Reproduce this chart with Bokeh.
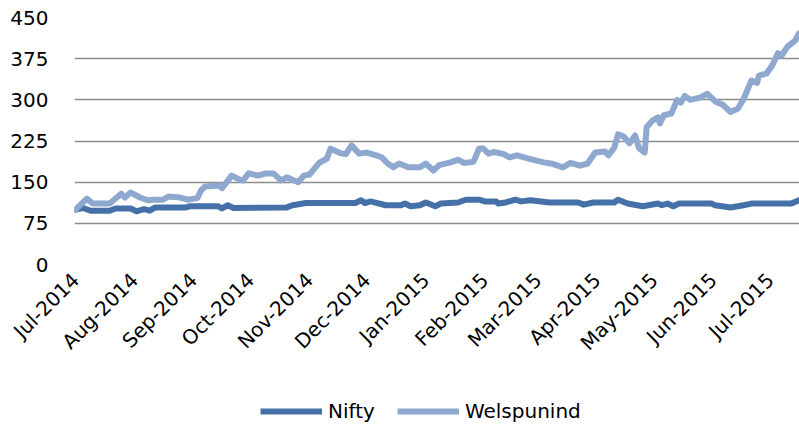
import math
import pandas as pd
from bokeh.plotting import figure
from bokeh.layouts import column
from bokeh.models import (ColumnDataSource, Range1d, FixedTicker,
                          DatetimeTickFormatter, Legend, LegendItem)
from bokeh.embed import file_html
from bokeh.resources import INLINE

# ---------------- data ----------------
nifty_dates = ["2014-07-01", "2014-07-05", "2014-07-09", "2014-07-19", "2014-07-22",
               "2014-07-30", "2014-08-02", "2014-08-06", "2014-08-09", "2014-08-12",
               "2014-08-28", "2014-08-30", "2014-09-14", "2014-09-16", "2014-09-19",
               "2014-09-22", "2014-10-20", "2014-10-23", "2014-10-30", "2014-11-25",
               "2014-11-28", "2014-11-30", "2014-12-03", "2014-12-11", "2014-12-19",
               "2014-12-21", "2014-12-24", "2014-12-29", "2015-01-01", "2015-01-06",
               "2015-01-09", "2015-01-18", "2015-01-22", "2015-01-29", "2015-02-01",
               "2015-02-07", "2015-02-08", "2015-02-12", "2015-02-17", "2015-02-20",
               "2015-02-25", "2015-03-07", "2015-03-22", "2015-03-25", "2015-03-30",
               "2015-04-10", "2015-04-12", "2015-04-17", "2015-04-25", "2015-05-03",
               "2015-05-05", "2015-05-08", "2015-05-11", "2015-05-14", "2015-05-31",
               "2015-06-02", "2015-06-10", "2015-06-17", "2015-06-21", "2015-07-12",
               "2015-07-16"]
nifty_values = [100, 103, 98, 98, 102,
                102, 97, 101, 98, 104,
                104, 106, 106, 102, 108,
                103, 104, 108, 112, 112,
                117, 112, 115, 108, 108,
                111, 106, 108, 113, 106,
                111, 113, 118, 118, 115,
                115, 111, 113, 118, 115,
                117, 113, 113, 109, 113,
                113, 118, 111, 106, 111,
                108, 111, 106, 111, 111,
                108, 104, 108, 111, 111,
                117]

welspun_dates = ["2014-07-01", "2014-07-04", "2014-07-07", "2014-07-10", "2014-07-19",
                 "2014-07-25", "2014-07-27", "2014-07-30", "2014-08-04", "2014-08-08",
                 "2014-08-11", "2014-08-16", "2014-08-19", "2014-08-25", "2014-08-29",
                 "2014-09-03", "2014-09-05", "2014-09-07", "2014-09-15", "2014-09-16",
                 "2014-09-21", "2014-09-25", "2014-09-27", "2014-09-30", "2014-10-05",
                 "2014-10-09", "2014-10-13", "2014-10-17", "2014-10-20", "2014-10-26",
                 "2014-10-29", "2014-11-01", "2014-11-06", "2014-11-10", "2014-11-12",
                 "2014-11-17", "2014-11-20", "2014-11-23", "2014-11-27", "2014-12-01",
                 "2014-12-06", "2014-12-09", "2014-12-12", "2014-12-15", "2014-12-18",
                 "2014-12-23", "2014-12-29", "2015-01-01", "2015-01-05", "2015-01-08",
                 "2015-01-14", "2015-01-18", "2015-01-21", "2015-01-26", "2015-01-29",
                 "2015-01-31", "2015-02-03", "2015-02-06", "2015-02-11", "2015-02-14",
                 "2015-02-18", "2015-02-25", "2015-03-04", "2015-03-09", "2015-03-14",
                 "2015-03-18", "2015-03-23", "2015-03-27", "2015-03-31", "2015-04-05",
                 "2015-04-07", "2015-04-10", "2015-04-12", "2015-04-15", "2015-04-18",
                 "2015-04-21", "2015-04-23", "2015-04-26", "2015-04-27", "2015-04-30",
                 "2015-05-03", "2015-05-04", "2015-05-06", "2015-05-10", "2015-05-13",
                 "2015-05-15", "2015-05-17", "2015-05-20", "2015-05-25", "2015-05-29",
                 "2015-06-02", "2015-06-06", "2015-06-10", "2015-06-14", "2015-06-17",
                 "2015-06-21", "2015-06-24", "2015-06-25", "2015-06-29", "2015-07-02",
                 "2015-07-05", "2015-07-07", "2015-07-10", "2015-07-14", "2015-07-16"]
welspun_values = [100, 110, 120, 111, 111,
                  129, 122, 131, 122, 117,
                  118, 118, 124, 122, 118,
                  121, 135, 142, 144, 139,
                  162, 155, 153, 166, 162,
                  166, 166, 153, 159, 150,
                  162, 164, 185, 193, 211,
                  203, 201, 217, 202, 204,
                  199, 195, 184, 177, 184,
                  177, 177, 184, 171, 181,
                  186, 191, 185, 187, 211,
                  212, 202, 205, 201, 195,
                  199, 192, 186, 183, 177,
                  185, 180, 184, 204, 206,
                  199, 213, 237, 233, 221,
                  235, 212, 204, 250, 262,
                  268, 257, 272, 275, 300,
                  295, 307, 300, 304, 311,
                  297, 291, 278, 284, 302,
                  335, 331, 344, 348, 363,
                  385, 381, 397, 408, 421]

month_ticks = ["2014-07-01", "2014-08-01", "2014-09-01", "2014-10-01", "2014-11-01",
               "2014-12-01", "2015-01-01", "2015-02-01", "2015-03-01", "2015-04-01",
               "2015-05-01", "2015-06-01", "2015-07-01"]
y_ticks = [0, 75, 150, 225, 300, 375, 450]
series_names = ["Nifty", "Welspunind"]

# ---------------- styling ----------------
FONT = "DejaVu Sans"
NIFTY_COLOR = "#4571A8"
WELSPUN_COLOR = "#8EA8D0"
GRID_COLOR = "#8C8C8C"
LINE_W = 6

def to_ms(d):
    return int(pd.Timestamp(d).timestamp() * 1000)

x_start = pd.Timestamp("2014-07-01") - pd.Timedelta(hours=12)
x_end = x_start + pd.Timedelta(days=380.8)

p = figure(width=799, height=395, x_axis_type="datetime",
           output_backend="svg", toolbar_location=None,
           x_range=Range1d(x_start, x_end), y_range=Range1d(0, 450),
           min_border_left=74, min_border_right=0,
           min_border_top=17, min_border_bottom=131)
p.outline_line_color = None
p.background_fill_color = "white"
p.border_fill_color = "white"

src_n = ColumnDataSource(dict(x=pd.to_datetime(nifty_dates), y=nifty_values))
src_w = ColumnDataSource(dict(x=pd.to_datetime(welspun_dates), y=welspun_values))

p.line("x", "y", source=src_n, line_color=NIFTY_COLOR, line_width=LINE_W,
       line_join="round", line_cap="round")
p.line("x", "y", source=src_w, line_color=WELSPUN_COLOR, line_width=LINE_W,
       line_join="round", line_cap="round")

# y axis
p.yaxis.ticker = FixedTicker(ticks=y_ticks)
p.yaxis.axis_line_color = None
p.yaxis.major_tick_line_color = None
p.yaxis.minor_tick_line_color = None
p.yaxis.major_label_standoff = 20
p.yaxis.major_label_text_font = FONT
p.yaxis.major_label_text_font_size = "20px"
p.yaxis.major_label_text_color = "black"

# x axis
p.xaxis.ticker = FixedTicker(ticks=[to_ms(d) for d in month_ticks])
fmt = "%b-%Y"
p.xaxis.formatter = DatetimeTickFormatter(
    microseconds=fmt, milliseconds=fmt, seconds=fmt, minsec=fmt, minutes=fmt,
    hourmin=fmt, hours=fmt, days=fmt, months=fmt, years=fmt)
p.xaxis.major_label_orientation = math.pi / 4
p.xaxis.axis_line_color = None
p.xaxis.major_tick_line_color = None
p.xaxis.minor_tick_line_color = None
p.xaxis.major_label_standoff = 6
p.xaxis.major_label_text_font = FONT
p.xaxis.major_label_text_font_size = "20px"
p.xaxis.major_label_text_color = "black"

# grids
p.xgrid.visible = False
p.ygrid.grid_line_color = GRID_COLOR
p.ygrid.grid_line_width = 1.5

# ---------------- legend strip ----------------
leg = figure(width=799, height=32, output_backend="svg", toolbar_location=None,
             x_range=Range1d(0, 1), y_range=Range1d(0, 1),
             x_axis_location=None, y_axis_location=None,
             min_border_left=74, min_border_right=0,
             min_border_top=0, min_border_bottom=0)
leg.outline_line_color = None
leg.xgrid.visible = False
leg.ygrid.visible = False
# proxy renderers (kept outside the visible range) that only feed the legend swatches
lr_n = leg.line(x=[-3, -2], y=[-3, -2], line_color=NIFTY_COLOR, line_width=LINE_W)
lr_w = leg.line(x=[-3, -2], y=[-3, -2], line_color=WELSPUN_COLOR, line_width=LINE_W)

legend = Legend(items=[LegendItem(label=series_names[0], renderers=[lr_n]),
                       LegendItem(label=series_names[1], renderers=[lr_w])],
                location=(186, 4), orientation="horizontal",
                glyph_width=62, glyph_height=22, label_standoff=6, spacing=22,
                padding=0, margin=0, border_line_alpha=0, background_fill_alpha=0,
                label_text_font=FONT, label_text_font_size="20px",
                label_text_color="black")
leg.add_layout(legend, "center")

open("out.html", "w").write(file_html(column(p, leg), INLINE))
